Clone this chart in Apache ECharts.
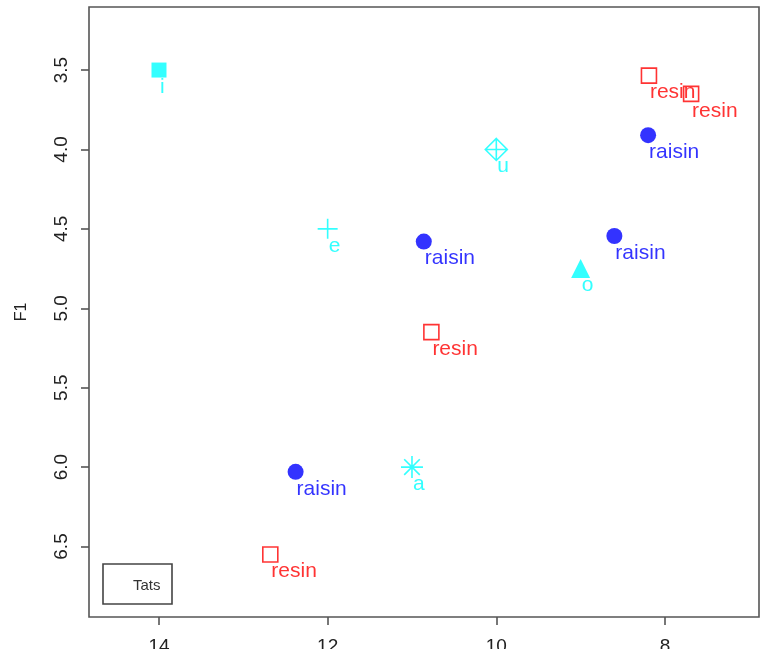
<!DOCTYPE html>
<html>
<head>
<meta charset="utf-8">
<script src="https://cdn.jsdelivr.net/npm/echarts@6/dist/echarts.min.js"></script>
<style>
  html, body { margin: 0; padding: 0; background: #fff; }
  #chart { width: 773px; height: 649px; }
</style>
</head>
<body>
<div id="chart"></div>
<script>
// Vowel reference points (F2 on the horizontal axis, F1 on the vertical axis)
const vowelLabels = ['i', 'e', 'u', 'o', 'a'];
const vowelF2 = [14, 12, 10, 9, 11];
const vowelF1 = [3.5, 4.5, 4.0, 4.75, 6.0];

// Tokens of "raisin"
const raisinF2 = [8.2, 10.86, 8.6, 12.38];
const raisinF1 = [3.91, 4.58, 4.545, 6.03];

// Tokens of "resin"
const resinF2 = [8.19, 7.69, 10.77, 12.68];
const resinF1 = [3.535, 3.65, 5.15, 6.55];

// Axis ticks
const xTicks = [14, 12, 10, 8];
const yTicks = [3.5, 4.0, 4.5, 5.0, 5.5, 6.0, 6.5];

const CYAN = '#00ffff', BLUE = '#0000ff', RED = '#ff0000';
const FONT = '"Liberation Sans", Arial, Helvetica, sans-serif';

// Plotting symbol for each vowel
const vowelShapes = {
  i: { symbol: 'rect', size: 15, filled: true },
  e: { symbol: 'path://M0,-1L0,1M-1,0L1,0', size: 20, filled: false },
  u: { symbol: 'path://M0,-1L1,0L0,1L-1,0ZM0,-1L0,1M-1,0L1,0', size: 22, filled: false },
  o: { symbol: 'triangle', size: 19, filled: true },
  a: { symbol: 'path://M0,-1L0,1M-1,0L1,0M-0.707,-0.707L0.707,0.707M-0.707,0.707L0.707,-0.707', size: 22, filled: false }
};

const labelStyle = (color) => ({
  show: true,
  position: 'inside',
  align: 'left',
  verticalAlign: 'middle',
  offset: [1, 17],
  color: color,
  fontFamily: FONT,
  fontSize: 21,
  formatter: (p) => p.data.label
});

const vowelData = vowelLabels.map((v, i) => {
  const s = vowelShapes[v];
  return {
    value: [vowelF2[i], vowelF1[i]],
    label: v,
    symbol: s.symbol,
    symbolSize: s.size,
    itemStyle: s.filled
      ? { color: CYAN, borderWidth: 0 }
      : { color: 'rgba(0,0,0,0)', borderColor: CYAN, borderWidth: 1.6 }
  };
});
const raisinData = raisinF2.map((x, i) => ({ value: [x, raisinF1[i]], label: 'raisin' }));
const resinData = resinF2.map((x, i) => ({ value: [x, resinF1[i]], label: 'resin' }));

const chart = echarts.init(document.getElementById('chart'), null, { renderer: 'canvas' });

chart.setOption({
  animation: false,
  backgroundColor: '#fff',
  grid: {
    left: 89, right: 14, top: 7, bottom: 32,
    outerBoundsMode: 'none',
    containLabel: false,
    show: true, borderColor: '#555', borderWidth: 1.6, backgroundColor: 'transparent'
  },
  xAxis: {
    type: 'value',
    inverse: true,
    min: 6.885, max: 14.83,
    splitLine: { show: false },
    axisLine: { show: false },
    axisTick: { show: true, length: 8, customValues: xTicks, lineStyle: { color: '#555', width: 1.6 } },
    axisLabel: {
      customValues: xTicks,
      margin: 20,
      color: '#222',
      fontFamily: FONT,
      fontSize: 19,
      formatter: (v) => String(v)
    }
  },
  yAxis: {
    type: 'value',
    inverse: true,
    min: 3.103, max: 6.944,
    name: 'F1',
    nameLocation: 'middle',
    nameGap: 59,
    nameRotate: 90,
    nameTextStyle: { color: '#222', fontFamily: FONT, fontSize: 16 },
    splitLine: { show: false },
    axisLine: { show: false },
    axisTick: { show: true, length: 8, customValues: yTicks, lineStyle: { color: '#555', width: 1.6 } },
    axisLabel: {
      customValues: yTicks,
      rotate: 90,
      margin: 18,
      color: '#222',
      fontFamily: FONT,
      fontSize: 19,
      formatter: (v) => v.toFixed(1)
    }
  },
  graphic: [
    {
      type: 'rect',
      shape: { x: 103, y: 564, width: 69, height: 40 },
      style: { fill: 'none', stroke: '#444', lineWidth: 1.6 }
    },
    {
      type: 'text',
      x: 133, y: 586,
      style: { text: 'Tats', fill: '#333', font: '15px ' + FONT, textVerticalAlign: 'middle' }
    }
  ],
  series: [
    {
      name: 'vowels',
      type: 'scatter',
      data: vowelData,
      label: labelStyle(CYAN),
      emphasis: { disabled: true }
    },
    {
      name: 'raisin',
      type: 'scatter',
      data: raisinData,
      symbol: 'circle',
      symbolSize: 16,
      itemStyle: { color: BLUE },
      label: labelStyle(BLUE),
      emphasis: { disabled: true }
    },
    {
      name: 'resin',
      type: 'scatter',
      data: resinData,
      symbol: 'rect',
      symbolSize: 15,
      itemStyle: { color: 'rgba(0,0,0,0)', borderColor: RED, borderWidth: 1.6 },
      label: labelStyle(RED),
      emphasis: { disabled: true }
    }
  ]
});
</script>
</body>
</html>
